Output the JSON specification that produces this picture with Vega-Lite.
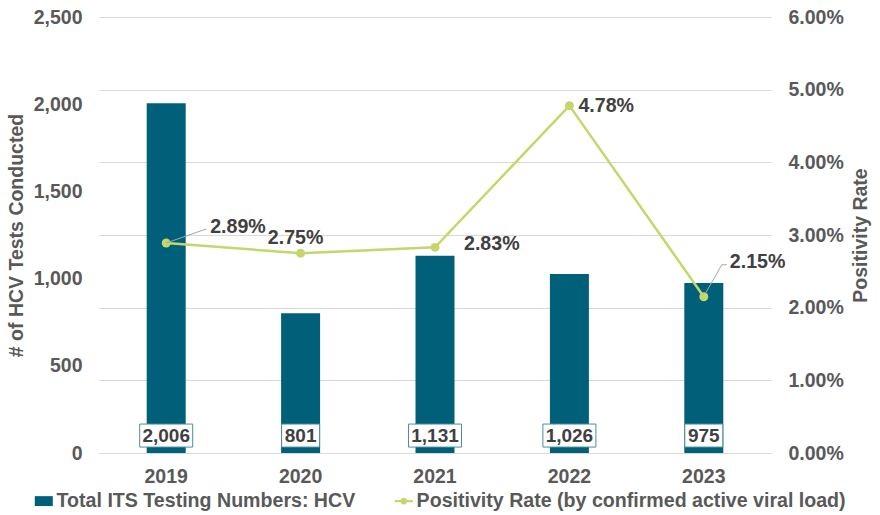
{
  "$schema": "https://vega.github.io/schema/vega-lite/v6.json",
  "width": 672,
  "height": 436,
  "autosize": {"type": "none"},
  "padding": {"left": 99, "top": 17, "right": 109, "bottom": 62},
  "background": "white",
  "config": {
    "font": "Liberation Sans",
    "view": {"stroke": null},
    "axis": {"labelFont": "Liberation Sans", "titleFont": "Liberation Sans"},
    "legend": {"labelFont": "Liberation Sans"}
  },
  "data": {
    "values": [
      {"year": "2019", "tests": 2006, "rate": 0.0289},
      {"year": "2020", "tests": 801, "rate": 0.0275},
      {"year": "2021", "tests": 1131, "rate": 0.0283},
      {"year": "2022", "tests": 1026, "rate": 0.0478},
      {"year": "2023", "tests": 975, "rate": 0.0215}
    ]
  },
  "encoding": {
    "x": {
      "field": "year",
      "type": "nominal",
      "scale": {"paddingInner": 0.71, "paddingOuter": 0.355},
      "axis": {
        "title": null,
        "labelAngle": 0,
        "labelFontSize": 19.5,
        "labelFontWeight": "bold",
        "labelColor": "#595959",
        "labelPadding": 14,
        "ticks": false,
        "domainColor": "#d9d9d9",
        "domainWidth": 1,
        "grid": false
      }
    }
  },
  "layer": [
    {
      "layer": [
        {
          "mark": {"type": "bar", "size": 39},
          "encoding": {
            "y": {
              "field": "tests",
              "type": "quantitative",
              "scale": {"domain": [0, 2500], "nice": false, "zero": true},
              "axis": {
                "title": "# of HCV Tests Conducted",
                "values": [0, 500, 1000, 1500, 2000, 2500],
                "format": ",.0f",
                "grid": false,
                "ticks": false,
                "domain": false,
                "labelFontSize": 19.5,
                "labelFontWeight": "bold",
                "labelColor": "#595959",
                "labelPadding": 17,
                "titleFontSize": 19.5,
                "titleFontWeight": "bold",
                "titleColor": "#595959",
                "titlePadding": 7
              }
            },
            "color": {
              "datum": "Total ITS Testing Numbers: HCV",
              "scale": {
                "domain": ["Total ITS Testing Numbers: HCV", "Positivity Rate (by confirmed active viral load)"],
                "range": ["#00607a", "#c3d76b"]
              },
              "legend": {
                "title": null,
                "orient": "none",
                "direction": "horizontal",
                "legendX": -65,
                "legendY": 474,
                "padding": 0,
                "labelFontSize": 19.6,
                "labelFontWeight": "bold",
                "labelColor": "#595959",
                "labelLimit": 700,
                "labelOffset": 3,
                "symbolSize": 324,
                "columnPadding": 38,
                "encode": {
                  "symbols": {
                    "update": {
                      "shape": {"signal": "datum.value === 'Total ITS Testing Numbers: HCV' ? 'M-1,-0.55H1V0.55H-1Z' : 'M-1,-0.12H1V0.12H-1Z M0.38,0A0.38,0.38 0 1,1 -0.38,0A0.38,0.38 0 1,1 0.38,0Z'"},
                      "fill": {"signal": "datum.value === 'Total ITS Testing Numbers: HCV' ? '#00607a' : '#c3d76b'"},
                      "strokeWidth": {"value": 0},
                      "opacity": {"value": 1}
                    }
                  }
                }
              }
            }
          }
        },
        {
          "transform": [{"filter": "datum.tests >= 1000"}],
          "mark": {"type": "bar", "fill": "white", "stroke": "#4f8ca1", "strokeWidth": 1, "size": 53},
          "encoding": {
            "y": {"datum": 34, "type": "quantitative", "scale": {"domain": [0, 2500], "nice": false}},
            "y2": {"datum": 166}
          }
        },
        {
          "transform": [{"filter": "datum.tests < 1000"}],
          "mark": {"type": "bar", "fill": "white", "stroke": "#4f8ca1", "strokeWidth": 1, "size": 38},
          "encoding": {
            "y": {"datum": 34, "type": "quantitative", "scale": {"domain": [0, 2500], "nice": false}},
            "y2": {"datum": 166}
          }
        },
        {
          "mark": {"type": "text", "fontSize": 19, "fontWeight": "bold", "color": "#404040", "baseline": "middle"},
          "encoding": {
            "y": {"datum": 100, "type": "quantitative", "scale": {"domain": [0, 2500], "nice": false}},
            "text": {"field": "tests", "type": "quantitative", "format": ",.0f"}
          }
        }
      ]
    },
    {
      "layer": [
        {
          "mark": {"type": "line", "strokeWidth": 2.5},
          "encoding": {
            "y": {
              "field": "rate",
              "type": "quantitative",
              "scale": {"domain": [0, 0.06], "nice": false},
              "axis": {
                "orient": "right",
                "title": "Positivity Rate",
                "values": [0, 0.01, 0.02, 0.03, 0.04, 0.05, 0.06],
                "format": ".2%",
                "grid": true,
                "gridColor": "#d9d9d9",
                "gridWidth": 1,
                "ticks": false,
                "domain": false,
                "labelFontSize": 19.5,
                "labelFontWeight": "bold",
                "labelColor": "#595959",
                "labelPadding": 17,
                "titleFontSize": 19.5,
                "titleFontWeight": "bold",
                "titleColor": "#595959",
                "titleAngle": 270,
                "titleBaseline": "top",
                "titlePadding": 8
              }
            },
            "color": {"datum": "Positivity Rate (by confirmed active viral load)"}
          }
        },
        {
          "mark": {"type": "point", "filled": true, "size": 80, "color": "#c3d76b", "opacity": 1},
          "encoding": {"y": {"field": "rate", "type": "quantitative"}}
        },
        {
          "transform": [{"filter": "datum.year == '2019'"}],
          "mark": {"type": "rule", "color": "#a6a6a6", "strokeWidth": 1, "x2Offset": 40, "y2Offset": -14},
          "encoding": {
            "y": {"field": "rate", "type": "quantitative"},
            "x2": {"field": "year"},
            "y2": {"field": "rate"}
          }
        },
        {
          "transform": [{"filter": "datum.year == '2023'"}],
          "mark": {"type": "rule", "color": "#a6a6a6", "strokeWidth": 1, "xOffset": 2, "yOffset": -4, "x2Offset": 18, "y2Offset": -32},
          "encoding": {
            "y": {"field": "rate", "type": "quantitative"},
            "x2": {"field": "year"},
            "y2": {"field": "rate"}
          }
        },
        {
          "transform": [{"filter": "datum.year == '2023'"}],
          "mark": {"type": "rule", "color": "#a6a6a6", "strokeWidth": 1, "xOffset": 18, "yOffset": -32, "x2Offset": 23, "y2Offset": -32},
          "encoding": {
            "y": {"field": "rate", "type": "quantitative"},
            "x2": {"field": "year"},
            "y2": {"field": "rate"}
          }
        },
        {
          "transform": [{"filter": "datum.year == '2019'"}],
          "mark": {"type": "text", "fontSize": 19.6, "fontWeight": "bold", "color": "#404040", "align": "left", "baseline": "middle", "dx": 44, "dy": -16},
          "encoding": {"y": {"field": "rate", "type": "quantitative"}, "text": {"field": "rate", "type": "quantitative", "format": ".2%"}}
        },
        {
          "transform": [{"filter": "datum.year == '2020'"}],
          "mark": {"type": "text", "fontSize": 19.6, "fontWeight": "bold", "color": "#404040", "align": "center", "baseline": "middle", "dx": -5, "dy": -15},
          "encoding": {"y": {"field": "rate", "type": "quantitative"}, "text": {"field": "rate", "type": "quantitative", "format": ".2%"}}
        },
        {
          "transform": [{"filter": "datum.year == '2021'"}],
          "mark": {"type": "text", "fontSize": 19.6, "fontWeight": "bold", "color": "#404040", "align": "left", "baseline": "middle", "dx": 29, "dy": -3},
          "encoding": {"y": {"field": "rate", "type": "quantitative"}, "text": {"field": "rate", "type": "quantitative", "format": ".2%"}}
        },
        {
          "transform": [{"filter": "datum.year == '2022'"}],
          "mark": {"type": "text", "fontSize": 19.6, "fontWeight": "bold", "color": "#404040", "align": "left", "baseline": "middle", "dx": 9, "dy": 0},
          "encoding": {"y": {"field": "rate", "type": "quantitative"}, "text": {"field": "rate", "type": "quantitative", "format": ".2%"}}
        },
        {
          "transform": [{"filter": "datum.year == '2023'"}],
          "mark": {"type": "text", "fontSize": 19.6, "fontWeight": "bold", "color": "#404040", "align": "left", "baseline": "middle", "dx": 26, "dy": -35},
          "encoding": {"y": {"field": "rate", "type": "quantitative"}, "text": {"field": "rate", "type": "quantitative", "format": ".2%"}}
        }
      ]
    }
  ],
  "resolve": {"scale": {"y": "independent"}}
}
